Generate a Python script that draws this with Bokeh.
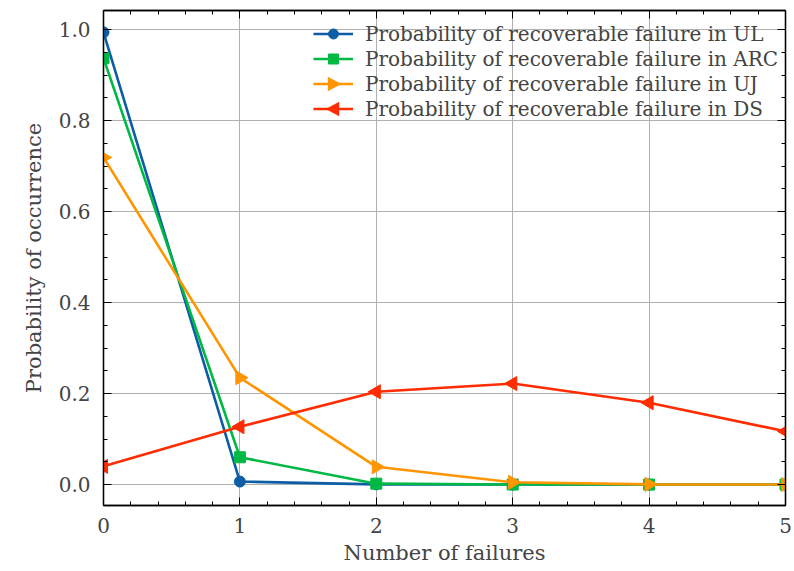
import math
from bokeh.plotting import figure
from bokeh.models import (LinearAxis, Range1d, Legend, LegendItem, PrintfTickFormatter,
                          CustomJSTickFormatter, PolyAnnotation)
from bokeh.embed import file_html
from bokeh.resources import INLINE

x = [0, 1, 2, 3, 4, 5]
ul = [0.994, 0.0066, 0.0004, 0.0, 0.0, 0.0]
arc = [0.937, 0.060, 0.002, 0.0001, 0.0, 0.0]
uj = [0.719, 0.235, 0.039, 0.005, 0.0005, 0.0]
ds = [0.040, 0.127, 0.204, 0.222, 0.180, 0.117]
labels = ["Probability of recoverable failure in UL",
          "Probability of recoverable failure in ARC",
          "Probability of recoverable failure in UJ",
          "Probability of recoverable failure in DS"]
colors = ["#0C5DA5", "#00B945", "#FF9500", "#FF2C00"]

FONT = "DejaVu Serif"
W, H = 794, 571
BL, BR, BT, BB = 103, 9, 10, 66
FRAME_H = H - BT - BB

p = figure(width=W, height=H, output_backend="svg", toolbar_location=None,
           x_range=Range1d(0, 5), y_range=Range1d(-0.046, 1.042),
           min_border_left=BL, min_border_right=BR, min_border_top=BT, min_border_bottom=BB)
p.background_fill_color = "white"
p.border_fill_color = "white"
p.outline_line_color = "black"
p.outline_line_width = 1.3

series = [(ul, "circle", 0, 11), (arc, "square", 0, 11),
          (uj, "triangle", -math.pi / 2, 14), (ds, "triangle", math.pi / 2, 14)]
items = []
for i, ((ys, mk, ang, sz), lab, col) in enumerate(zip(series, labels, colors)):
    r1 = p.line(x, ys, line_color=col, line_width=2.6)
    r2 = p.scatter(x, ys, marker=mk, angle=ang, size=sz, fill_color=col, line_color=col)
    rs = [r1, r2] if mk != "triangle" else [r1]
    items.append(LegendItem(label=lab, renderers=rs))

# legend layout (screen pixels, relative to the frame)
LEG_X, ROW_H, GLY_W = 210, 25, 40
LEG_TOP = 11  # from frame top
legend = Legend(items=items, location=(LEG_X, FRAME_H - LEG_TOP - 4 * ROW_H),
                margin=0, padding=0,
                glyph_width=GLY_W, glyph_height=ROW_H, label_height=ROW_H, spacing=0,
                label_standoff=12, background_fill_alpha=0, border_line_alpha=0,
                label_text_font=FONT, label_text_font_size="20px")
p.add_layout(legend)

# rotated triangle keys for the UJ and DS legend entries (frame-relative, y up)
for row, direction, col in [(2, 1, colors[2]), (3, -1, colors[3])]:
    cx = LEG_X + GLY_W / 2
    cy = FRAME_H - (LEG_TOP + ROW_H * row + ROW_H / 2)
    xs = [cx - 5.5 * direction, cx - 5.5 * direction, cx + 7.5 * direction]
    ys_ = [cy - 7, cy + 7, cy]
    p.add_layout(PolyAnnotation(xs=xs, ys=ys_, xs_units="screen", ys_units="screen",
                                fill_color=col, fill_alpha=1, line_color=col, line_width=1))

for ax in [p.xaxis[0], p.yaxis[0]]:
    ax.major_tick_in = 8
    ax.major_tick_out = 0
    ax.minor_tick_in = 4
    ax.minor_tick_out = 0
    ax.major_label_text_font = FONT
    ax.major_label_text_font_size = "20px"
    ax.axis_label_text_font = FONT
    ax.axis_label_text_font_size = "21px"
    ax.axis_label_text_font_style = "normal"
    ax.axis_line_color = "black"
    ax.axis_line_width = 1.3
    ax.major_tick_line_color = "black"
    ax.minor_tick_line_color = "black"

p.xaxis[0].ticker.desired_num_ticks = 6
p.xaxis[0].ticker.num_minor_ticks = 5
p.yaxis[0].ticker.num_minor_ticks = 4
p.yaxis[0].formatter = PrintfTickFormatter(format="%.1f")
p.xaxis.axis_label = "Number of failures"
p.yaxis.axis_label = "Probability of occurrence"
p.xaxis.major_label_standoff = 12
p.yaxis.major_label_standoff = 13
p.xaxis.axis_label_standoff = 5
p.yaxis.axis_label_standoff = 10

top = LinearAxis(major_tick_in=8, major_tick_out=0, minor_tick_in=4, minor_tick_out=0,
                 major_label_standoff=0, formatter=CustomJSTickFormatter(code="return ''"),
                 axis_line_color="black", axis_line_width=1.3)
top.ticker.desired_num_ticks = 6
top.ticker.num_minor_ticks = 5
right = LinearAxis(major_tick_in=8, major_tick_out=0, minor_tick_in=4, minor_tick_out=0,
                   major_label_standoff=0, formatter=CustomJSTickFormatter(code="return ''"),
                   axis_line_color="black", axis_line_width=1.3)
right.ticker.num_minor_ticks = 4
p.add_layout(top, "above")
p.add_layout(right, "right")

p.xgrid.grid_line_color = "#b0b0b0"
p.ygrid.grid_line_color = "#b0b0b0"
p.xgrid.grid_line_width = 1
p.ygrid.grid_line_width = 1

open("out.html", "w").write(file_html(p, INLINE))
